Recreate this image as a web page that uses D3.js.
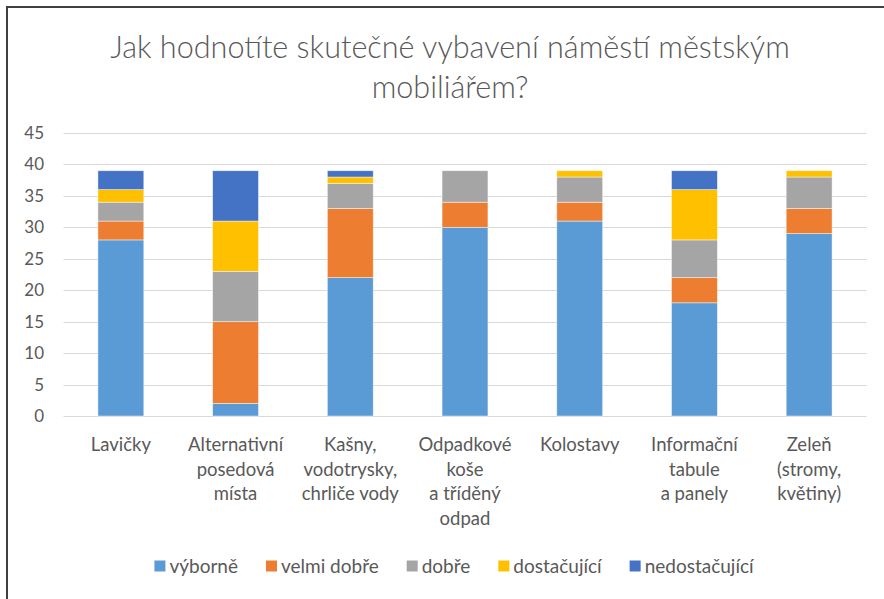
<!DOCTYPE html>
<html>
<head>
<meta charset="utf-8">
<script src="https://cdn.jsdelivr.net/npm/d3@7"></script>
<style>
  html, body { margin: 0; padding: 0; background: #fff; }
  svg { display: block; }
  text { font-family: Lato, "Open Sans", sans-serif; fill: #595959; }
</style>
</head>
<body>
<svg id="chart" width="884" height="599"></svg>
<script>
// ---- data ----
const categories = ["Lavičky", "Alternativní posedová místa", "Kašny, vodotrysky, chrliče vody",
  "Odpadkové koše a tříděný odpad", "Kolostavy", "Informační tabule a panely", "Zeleň (stromy, květiny)"];
const categoryLines = [
  ["Lavičky"],
  ["Alternativní", "posedová", "místa"],
  ["Kašny,", "vodotrysky,", "chrliče vody"],
  ["Odpadkové", "koše", "a tříděný", "odpad"],
  ["Kolostavy"],
  ["Informační", "tabule", "a panely"],
  ["Zeleň", "(stromy,", "květiny)"]
];
const seriesNames = ["výborně", "velmi dobře", "dobře", "dostačující", "nedostačující"];
const vyborne       = [28, 2, 22, 30, 31, 18, 29];
const velmiDobre    = [3, 13, 11, 4, 3, 4, 4];
const dobre         = [3, 8, 4, 5, 4, 6, 5];
const dostacujici   = [2, 8, 1, 0, 1, 8, 1];
const nedostacujici = [3, 8, 1, 0, 0, 3, 0];
const yTicks = [0, 5, 10, 15, 20, 25, 30, 35, 40, 45];
const colors = ["#5B9BD5", "#ED7D31", "#A5A5A5", "#FFC000", "#4472C4"];
const titleLines = ["Jak hodnotíte skutečné vybavení náměstí městským", "mobiliářem?"];

// ---- build table ----
const seriesValues = [vyborne, velmiDobre, dobre, dostacujici, nedostacujici];
const table = categories.map((c, i) => {
  const row = { category: c };
  seriesNames.forEach((s, k) => row[s] = seriesValues[k][i]);
  return row;
});
const stacked = d3.stack().keys(seriesNames)(table);

const svg = d3.select("#chart");

// border (chart frame)
svg.append("rect").attr("x", 7).attr("y", 7).attr("width", 900).attr("height", 620)
  .attr("fill", "none").attr("stroke", "#404040").attr("stroke-width", 2);

// title (fit first line to the reference width)
const title = svg.append("g");
const tNodes = titleLines.map((t, i) =>
  title.append("text").attr("x", 450).attr("y", 58 + i * 40)
    .attr("text-anchor", "middle").style("font-size", "29px").style("font-weight", 300)
    .text(t));
const w0 = tNodes[0].node().getComputedTextLength();
const tSize = 29 * 680 / w0;
tNodes.forEach(n => n.style("font-size", tSize + "px"));

// scales
const x = d3.scaleBand().domain(categories).range([63.5, 866.5]).paddingInner(0.6).paddingOuter(0.3);
const y = d3.scaleLinear().domain([0, 45]).range([416, 133]);

// gridlines
svg.append("g").selectAll("line").data(yTicks).join("line")
  .attr("x1", 63.5).attr("x2", 866.5)
  .attr("y1", d => Math.round(y(d)) + 0.5).attr("y2", d => Math.round(y(d)) + 0.5)
  .attr("stroke", "#D9D9D9").attr("stroke-width", 1);

// y axis labels
const yAxis = svg.append("g").attr("transform", "translate(50,0)")
  .call(d3.axisLeft(y).tickValues(yTicks).tickSize(0).tickPadding(6));
yAxis.select(".domain").remove();
yAxis.selectAll("text").style("font-size", "17px").style("fill", "#595959")
  .style("font-family", "Lato, sans-serif");

// bars
svg.append("g").selectAll("g").data(stacked).join("g")
  .attr("fill", (d, i) => colors[i])
  .selectAll("rect").data(d => d.filter(p => p[1] - p[0] > 0)).join("rect")
  .attr("x", d => x(d.data.category))
  .attr("width", x.bandwidth())
  .attr("y", d => y(d[1]))
  .attr("height", d => y(d[0]) - y(d[1]))
  .attr("stroke", "rgba(255,255,255,0.6)").attr("stroke-width", 0.75);

// x labels
const xl = svg.append("g");
categories.forEach((c, i) => {
  const t = xl.append("text").attr("text-anchor", "middle")
    .attr("x", x(c) + x.bandwidth() / 2).attr("y", 451)
    .style("font-size", "18.5px");
  categoryLines[i].forEach((ln, j) => {
    t.append("tspan").attr("x", x(c) + x.bandwidth() / 2).attr("dy", j === 0 ? 0 : 24.5).text(ln);
  });
});

// legend
const legend = svg.append("g");
let lx = 0;
seriesNames.forEach((s, i) => {
  const g = legend.append("g");
  g.append("rect").attr("x", 0).attr("y", -5.5).attr("width", 11).attr("height", 11).attr("fill", colors[i]);
  const t = g.append("text").attr("x", 15).attr("y", 6.5).style("font-size", "19px").text(s);
  const w = 15 + t.node().getComputedTextLength();
  g.attr("transform", `translate(${lx},0)`);
  lx += w + 28;
});
const totalW = lx - 28;
legend.attr("transform", `translate(${(152 + 756) / 2 - totalW / 2},566)`);
</script>
</body>
</html>
